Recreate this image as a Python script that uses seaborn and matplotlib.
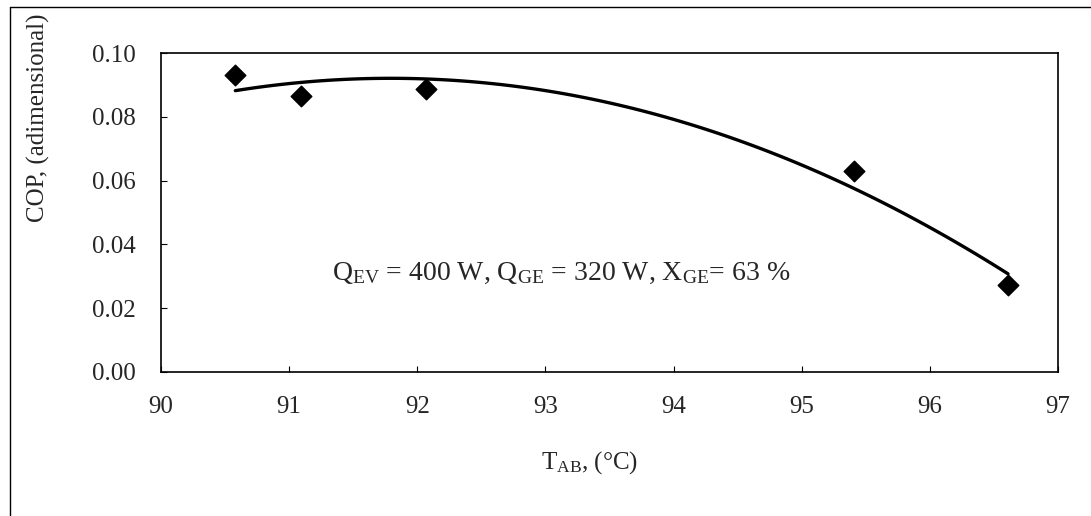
import matplotlib
matplotlib.use("Agg")
import matplotlib.pyplot as plt
from matplotlib.lines import Line2D
import pandas as pd
import seaborn as sns

# data
t_ab = [90.58, 91.09, 92.07, 95.41, 96.61]
cop = [0.0932, 0.0866, 0.0888, 0.0631, 0.0274]
x_ticks = [90, 91, 92, 93, 94, 95, 96, 97]
y_ticks = [0.00, 0.02, 0.04, 0.06, 0.08, 0.10]
note = r"Q$_{\mathrm{EV}}$ = 400 W, Q$_{\mathrm{GE}}$ = 320 W, X$_{\mathrm{GE}}$= 63 %"

df = pd.DataFrame({"T_AB": t_ab, "COP": cop})

sns.set_style("ticks")
plt.rcParams["font.family"] = ["Liberation Serif", "DejaVu Serif"]
plt.rcParams["mathtext.fontset"] = "custom"
plt.rcParams["mathtext.rm"] = "Liberation Serif"
plt.rcParams["mathtext.it"] = "Liberation Serif"

fig = plt.figure(figsize=(10.91, 5.16), dpi=100)
ax = fig.add_axes([161 / 1091, 1 - 372 / 516, (1058 - 161) / 1091, (372 - 53) / 516])

# scatter + 2nd order polynomial trend (like Excel's trendline)
sns.regplot(data=df, x="T_AB", y="COP", order=2, ci=None, marker="D", ax=ax,
            scatter_kws={"color": "black", "s": 110, "alpha": 1, "zorder": 3,
                         "edgecolors": "black"},
            line_kws={"color": "black", "lw": 2.4})

ax.set_xlim(90, 97)
ax.set_ylim(0, 0.10)
ax.set_xticks(x_ticks)
ax.set_yticks(y_ticks)
ax.set_yticklabels([f"{v:.2f}" for v in y_ticks])
ax.tick_params(direction="in", length=4, width=0.8, labelsize=18, color="black")
ax.tick_params(axis="x", pad=17)
ax.tick_params(axis="y", pad=18)
for sp in ax.spines.values():
    sp.set_visible(True)
    sp.set_color("black")
    sp.set_linewidth(1.2)

ax.set_xlabel("")
ax.set_ylabel("")
fig.text(590 / 1091, 1 - 463 / 516, r"T$_{\mathrm{AB}}$, (°C)", fontsize=18,
         ha="center", va="center")
fig.text(38 / 1091, 1 - 222 / 516, "COP, (adimensional)", rotation=90,
         fontsize=18, ha="center", va="bottom")

ax.text(93.12, 0.031, note, fontsize=20, ha="center", va="center")

# outer chart frame (left and top edges visible in the reference)
fig.add_artist(Line2D([10 / 1091, 10 / 1091], [0, 1 - 7 / 516], color="black", lw=1.0))
fig.add_artist(Line2D([10 / 1091, 1], [1 - 7 / 516, 1 - 7 / 516], color="black", lw=1.0))

fig.savefig("out.png", dpi=100, facecolor="white")
